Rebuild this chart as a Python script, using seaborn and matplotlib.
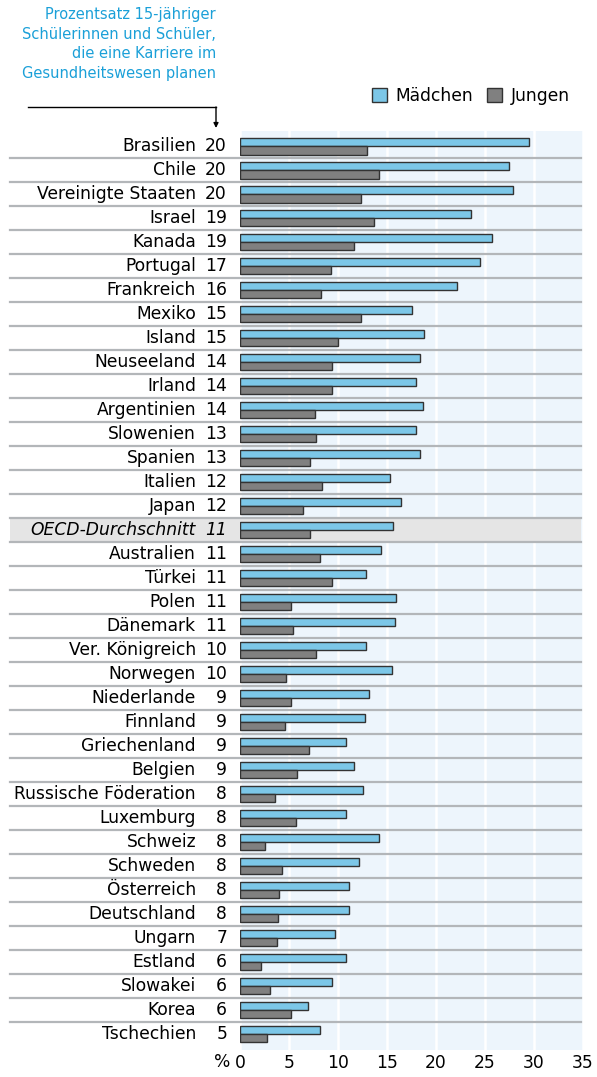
import matplotlib.pyplot as plt
import pandas as pd
import seaborn as sns
from matplotlib.lines import Line2D
from matplotlib.patches import Patch, Rectangle

laender = [
    "Brasilien", "Chile", "Vereinigte Staaten", "Israel", "Kanada", "Portugal",
    "Frankreich", "Mexiko", "Island", "Neuseeland", "Irland", "Argentinien",
    "Slowenien", "Spanien", "Italien", "Japan", "OECD-Durchschnitt",
    "Australien", "Türkei", "Polen", "Dänemark", "Ver. Königreich", "Norwegen",
    "Niederlande", "Finnland", "Griechenland", "Belgien", "Russische Föderation",
    "Luxemburg", "Schweiz", "Schweden", "Österreich", "Deutschland", "Ungarn",
    "Estland", "Slowakei", "Korea", "Tschechien",
]
gesamt = [20, 20, 20, 19, 19, 17, 16, 15, 15, 14, 14, 14, 13, 13, 12, 12, 11,
          11, 11, 11, 11, 10, 10, 9, 9, 9, 9, 8, 8, 8, 8, 8, 8, 7, 6, 6, 6, 5]
maedchen = [29.5, 27.5, 27.9, 23.6, 25.7, 24.5, 22.1, 17.6, 18.8, 18.4, 18.0,
            18.7, 18.0, 18.4, 15.3, 16.4, 15.6, 14.4, 12.9, 15.9, 15.8, 12.9,
            15.5, 13.2, 12.8, 10.8, 11.6, 12.5, 10.8, 14.2, 12.1, 11.1, 11.1,
            9.7, 10.8, 9.4, 6.9, 8.2]
jungen = [13.0, 14.2, 12.3, 13.7, 11.6, 9.3, 8.3, 12.3, 10.0, 9.4, 9.4, 7.7,
          7.8, 7.1, 8.4, 6.4, 7.1, 8.2, 9.4, 5.2, 5.4, 7.8, 4.7, 5.2, 4.6, 7.0,
          5.8, 3.6, 5.7, 2.6, 4.3, 4.0, 3.9, 3.8, 2.1, 3.1, 5.2, 2.8]
gruppen = ["Mädchen", "Jungen"]
farben = {"Mädchen": "#7cc7e8", "Jungen": "#808080"}

df = pd.DataFrame({"Land": laender, "Mädchen": maedchen, "Jungen": jungen})
df = df.melt(id_vars="Land", var_name="Gruppe", value_name="Wert")

W, H = 597, 1077
fs = 12.3
fig = plt.figure(figsize=(W / 100, H / 100), dpi=100)
ax = fig.add_axes([240 / W, 1 - 1050 / H, 343 / W, 919 / H])
ax.set_facecolor("#edf5fc")

sns.barplot(data=df, y="Land", x="Wert", hue="Gruppe", order=laender,
            hue_order=gruppen, palette=farben, saturation=1, width=0.7,
            orient="h", edgecolor="#333333", linewidth=1, legend=False,
            ax=ax, zorder=3)

ax.set_xlim(0, 35)
ax.set_ylim(len(laender) - 0.33, -0.63)
ax.set_xticks(range(0, 36, 5))
ax.grid(axis="x", color="white", linewidth=1.8, zorder=1)
ax.grid(axis="y", visible=False)
ax.set_axisbelow(True)
for s in ax.spines.values():
    s.set_visible(False)
ax.tick_params(length=0, labelsize=fs, pad=3)
ax.set_yticks([])
ax.set_xlabel("")
ax.set_ylabel("")
ax.text(-0.027, -0.0035, "%", transform=ax.transAxes, ha="right", va="top",
        fontsize=fs)

# Trennlinien und OECD-Zeile
x0 = (10 - 240) / 343
x1 = (581 - 240) / 343
oecd = laender.index("OECD-Durchschnitt")
band = Rectangle((x0, oecd - 0.5), x1 - x0, 1, transform=ax.get_yaxis_transform(),
                 facecolor="#e5e5e5", edgecolor="none", zorder=0.8, clip_on=False)
ax.add_patch(band)
for i in range(len(laender) - 1):
    ax.plot([x0, x1], [i + 0.5, i + 0.5], transform=ax.get_yaxis_transform(),
            color="#b3b6b9", linewidth=1.6, clip_on=False, zorder=2)

for i, (land, g) in enumerate(zip(laender, gesamt)):
    stil = "italic" if land == "OECD-Durchschnitt" else "normal"
    ax.text((196 - 240) / 343, i, land, transform=ax.get_yaxis_transform(),
            ha="right", va="center", fontsize=fs, style=stil)
    ax.text((227 - 240) / 343, i, str(g), transform=ax.get_yaxis_transform(),
            ha="right", va="center", fontsize=fs, style=stil)

# Legende
handles = [Patch(facecolor=farben[g], edgecolor="#333333", label=g) for g in gruppen]
fig.legend(handles=handles, loc="center right", bbox_to_anchor=(577 / W, 1 - 96 / H),
           ncol=2, frameon=False, fontsize=fs, handlelength=0.9, handleheight=0.9,
           handletextpad=0.5, columnspacing=0.8, borderaxespad=0)

# Beschriftung oben links
fig.text(216 / W, 1 - 7 / H,
         "Prozentsatz 15-jähriger\nSchülerinnen und Schüler,\n"
         "die eine Karriere im\nGesundheitswesen planen",
         ha="right", va="top", color="#1ba0d8", fontsize=10.5, linespacing=1.38)
fig.add_artist(Line2D([28 / W, 216 / W], [1 - 107 / H, 1 - 107 / H],
                      color="black", linewidth=1))
ax.annotate("", xy=(216, H - 128), xytext=(216, H - 107), xycoords="figure pixels",
            textcoords="figure pixels",
            arrowprops=dict(arrowstyle="-|>", color="black", lw=1,
                            mutation_scale=7, shrinkA=0, shrinkB=0))

fig.savefig("out.png", dpi=100)
